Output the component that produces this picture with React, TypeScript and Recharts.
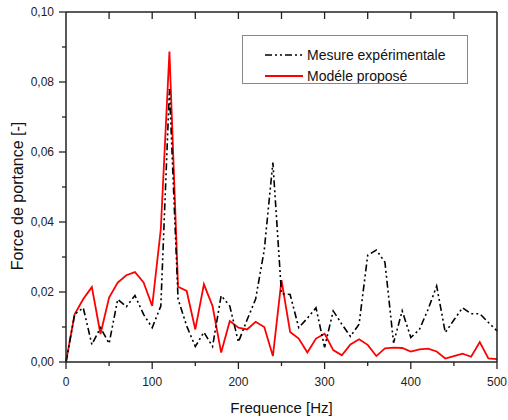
import React from 'react';
import { LineChart, Line, XAxis, YAxis, Label } from 'recharts';

const frequencies = [0, 10, 20, 30, 40, 50, 60, 70, 80, 90, 100, 110, 120, 130, 140, 150, 160, 170, 180, 190, 200, 210, 220, 230, 240, 250, 260, 270, 280, 290, 300, 310, 320, 330, 340, 350, 360, 370, 380, 390, 400, 410, 420, 430, 440, 450, 460, 470, 480, 490, 500];

const mesureExperimentale = [0, 0.0136, 0.0155, 0.005, 0.0098, 0.0053, 0.0179, 0.0158, 0.019, 0.0136, 0.0098, 0.016, 0.078, 0.018, 0.0103, 0.0044, 0.0085, 0.0044, 0.019, 0.016, 0.0057, 0.012, 0.018, 0.032, 0.057, 0.0195, 0.0193, 0.0098, 0.0125, 0.0155, 0.0042, 0.0146, 0.0108, 0.0073, 0.0108, 0.0305, 0.032, 0.0285, 0.0055, 0.0146, 0.007, 0.0093, 0.015, 0.0217, 0.0084, 0.012, 0.0155, 0.0138, 0.0138, 0.0113, 0.0089];

const modelePropose = [0, 0.0136, 0.018, 0.0214, 0.008, 0.0184, 0.0227, 0.0248, 0.0257, 0.0227, 0.016, 0.038, 0.0887, 0.0215, 0.0203, 0.0093, 0.0222, 0.016, 0.0027, 0.0117, 0.0098, 0.0093, 0.0115, 0.01, 0.0017, 0.0234, 0.0086, 0.0067, 0.0027, 0.0067, 0.0081, 0.0034, 0.0019, 0.005, 0.0065, 0.0049, 0.0017, 0.0039, 0.0041, 0.004, 0.003, 0.0036, 0.0038, 0.003, 0.001, 0.0017, 0.0024, 0.0015, 0.0057, 0.001, 0.0008];

const xTicks = [0, 50, 100, 150, 200, 250, 300, 350, 400, 450, 500];
const yTicks = [0, 0.01, 0.02, 0.03, 0.04, 0.05, 0.06, 0.07, 0.08, 0.09, 0.1];

const seriesNames = ['Mesure expérimentale', 'Modéle proposé'];
const xTitle = 'Frequence [Hz]';
const yTitle = 'Force de portance [-]';

const data = frequencies.map((f, i) => ({
  f,
  mesure: mesureExperimentale[i],
  modele: modelePropose[i],
}));

const FONT = '"Liberation Sans", Arial, sans-serif';
const AXIS_COLOR = '#222';
const DASH = '7 3 2 3 2 3';

const BottomTick = (props: any) => {
  const { x, y, payload } = props;
  const v = payload.value;
  const major = v % 100 === 0;
  return (
    <g>
      <line x1={x} x2={x} y1={y} y2={y + (major ? 7 : 4)} stroke={AXIS_COLOR} strokeWidth={1.3} />
      {major && (
        <text x={x} y={y + 24} textAnchor="middle" fontSize={12} fontFamily={FONT} fill="#222">
          {v}
        </text>
      )}
    </g>
  );
};

const LeftTick = (props: any) => {
  const { x, y, payload } = props;
  const v = payload.value;
  const major = Math.round(v * 100) % 2 === 0;
  return (
    <g>
      <line x1={x} x2={x - (major ? 7 : 4)} y1={y} y2={y} stroke={AXIS_COLOR} strokeWidth={1.3} />
      {major && (
        <text x={x - 12} y={y + 4} textAnchor="end" fontSize={12} fontFamily={FONT} fill="#222">
          {v.toFixed(2).replace('.', ',')}
        </text>
      )}
    </g>
  );
};

const TopTick = (props: any) => {
  const { x, y, payload } = props;
  const v = payload.value;
  if (v === 0 || v === 500) return <g />;
  return <line x1={x} x2={x} y1={y} y2={y + 7} stroke={AXIS_COLOR} strokeWidth={1.3} />;
};

const RightTick = (props: any) => {
  const { x, y, payload } = props;
  const v = payload.value;
  if (v === 0 || Math.abs(v - 0.1) < 1e-9) return <g />;
  return <line x1={x} x2={x - 6} y1={y} y2={y} stroke={AXIS_COLOR} strokeWidth={1.3} />;
};

const LegendBox = () => (
  <div
    style={{
      position: 'absolute',
      left: 242,
      top: 35,
      width: 226,
      height: 49,
      boxSizing: 'border-box',
      border: '1px solid #888',
      background: '#fff',
    }}
  >
    <svg width={224} height={47} style={{ display: 'block' }}>
      <line x1={22} x2={60} y1={19} y2={19} stroke="#000" strokeWidth={1.6} strokeDasharray={DASH} />
      <text x={64} y={24} fontSize={14} fontFamily={FONT} fill="#111">
        {seriesNames[0]}
      </text>
      <line x1={22} x2={60} y1={40} y2={40} stroke="#ff0000" strokeWidth={1.8} />
      <text x={64} y={45} fontSize={14} fontFamily={FONT} fill="#111">
        {seriesNames[1]}
      </text>
    </svg>
  </div>
);

export default function App() {
  return (
    <div style={{ position: 'absolute', left: 0, top: 0, width: 508, height: 420, background: '#fff' }}>
      <LineChart width={508} height={420} data={data} margin={{ top: 11, right: 10, left: 0, bottom: 0 }}>
        <XAxis
          xAxisId="top"
          orientation="top"
          dataKey="f"
          type="number"
          domain={[0, 500]}
          ticks={xTicks}
          height={1}
          tickSize={0}
          tickMargin={0}
          axisLine={{ stroke: AXIS_COLOR, strokeWidth: 1.5 }}
          tickLine={false}
          tick={TopTick}
          interval={0}
        />
        <XAxis
          dataKey="f"
          type="number"
          domain={[0, 500]}
          ticks={xTicks}
          height={58}
          tickSize={0}
          tickMargin={0}
          axisLine={{ stroke: AXIS_COLOR, strokeWidth: 1.5 }}
          tickLine={false}
          tick={BottomTick}
          interval={0}
        >
          <Label
            content={() => (
              <text x={281.5} y={413} textAnchor="middle" fontSize={15} fontFamily={FONT} fill="#111">
                {xTitle}
              </text>
            )}
          />
        </XAxis>
        <YAxis
          type="number"
          domain={[0, 0.1]}
          ticks={yTicks}
          width={66}
          tickSize={0}
          tickMargin={0}
          axisLine={{ stroke: AXIS_COLOR, strokeWidth: 1.5 }}
          tickLine={false}
          tick={LeftTick}
          interval={0}
        >
          <Label
            content={() => (
              <text
                x={17}
                y={196}
                transform="rotate(-90, 17, 196)"
                textAnchor="middle"
                dominantBaseline="central"
                fontSize={16}
                fontFamily={FONT}
                fill="#111"
              >
                {yTitle}
              </text>
            )}
          />
        </YAxis>
        <YAxis
          yAxisId="right"
          orientation="right"
          type="number"
          domain={[0, 0.1]}
          ticks={yTicks}
          width={1}
          tickSize={0}
          tickMargin={0}
          axisLine={{ stroke: AXIS_COLOR, strokeWidth: 1.5 }}
          tickLine={false}
          tick={RightTick}
          interval={0}
        />
        <Line
          dataKey="modele"
          type="linear"
          stroke="#ff0000"
          strokeWidth={1.8}
          dot={false}
          isAnimationActive={false}
        />
        <Line
          dataKey="mesure"
          type="linear"
          stroke="#000"
          strokeWidth={1.6}
          strokeDasharray={DASH}
          dot={false}
          isAnimationActive={false}
        />
      </LineChart>
      <LegendBox />
    </div>
  );
}
